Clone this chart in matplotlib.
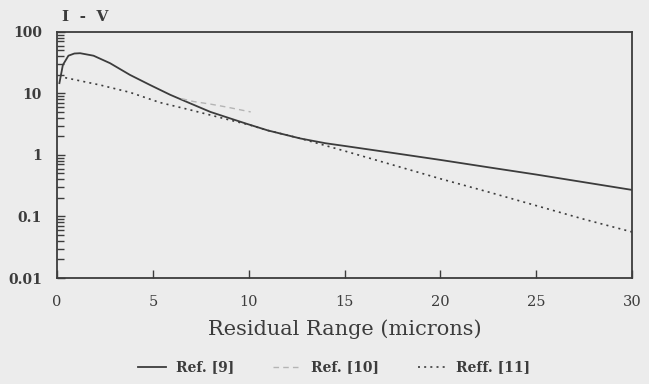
import matplotlib.pyplot as plt
from matplotlib.ticker import FixedLocator, LogLocator, NullFormatter

# Data
ref9_x = [0.12, 0.3, 0.59, 0.9, 1.2, 1.9, 2.76, 3.8, 4.85, 5.9, 6.94, 8.0, 9.0,
          9.9, 11.0, 12.7, 14.0, 15.0, 17.5, 20.0, 22.5, 25.0, 27.5, 30.0]
ref9_y = [14.7, 29, 41, 44.5, 45, 41, 31, 20, 13.7, 9.5, 6.9, 5.0, 3.95,
          3.2, 2.5, 1.85, 1.55, 1.4, 1.08, 0.83, 0.63, 0.48, 0.36, 0.27]

ref10_x = [6.5, 7.1, 8.0, 8.85, 10.1]
ref10_y = [8.2, 7.4, 6.7, 6.0, 5.0]

ref11_x = [0.42, 2.24, 3.8, 5.37, 6.94, 9.0, 10.0, 11.0, 12.7, 15.0,
           17.5, 20.0, 22.5, 25.0, 27.5, 30.0]
ref11_y = [18, 13.7, 10.4, 7.1, 5.4, 3.7, 3.1, 2.5, 1.85, 1.16,
           0.69, 0.41, 0.25, 0.15, 0.09, 0.056]

x_ticks = [0, 5, 10, 15, 20, 25, 30]
y_ticks = [0.01, 0.1, 1, 10, 100]
y_labels = ["0.01", "0.1", "1", "10", "100"]

ink = "#3c3c3c"
bg = "#ececec"

plt.rcParams['font.family'] = ['DejaVu Serif']

fig = plt.figure(figsize=(6.49, 3.84), dpi=100, facecolor=bg)
ax = fig.add_axes([0.088, 0.276, 0.886, 0.641])
ax.set_facecolor(bg)

ax.plot(ref9_x, ref9_y, color=ink, lw=1.3, label="Ref. [9]")
ax.plot(ref10_x, ref10_y, color="#b4b4b4", lw=1.0, linestyle=(0, (4, 3)), label="Ref. [10]")
ax.plot(ref11_x, ref11_y, color=ink, lw=1.2, linestyle=(0, (1.2, 2.5)), label="Reff. [11]")

ax.set_yscale("log")
ax.set_xlim(0, 30)
ax.set_ylim(0.01, 100)

ax.xaxis.set_major_locator(FixedLocator(x_ticks))
ax.set_xticklabels([str(t) for t in x_ticks], fontsize=10.5, color=ink)
ax.yaxis.set_major_locator(FixedLocator(y_ticks))
ax.set_yticklabels(y_labels, fontsize=10, fontweight="bold", color=ink)
ax.yaxis.set_minor_locator(LogLocator(base=10, subs=range(2, 10)))
ax.yaxis.set_minor_formatter(NullFormatter())

ax.tick_params(axis="x", direction="in", length=6, width=1, color=ink, pad=12)
ax.tick_params(axis="y", which="major", direction="in", length=6, width=1, color=ink, pad=11)
ax.tick_params(axis="y", which="minor", direction="in", length=5, width=1, color=ink)
ax.tick_params(top=False, right=False)

for side in ["left", "right", "top", "bottom"]:
    ax.spines[side].set_color(ink)
    ax.spines[side].set_linewidth(1.3)

ax.set_xlabel("Residual Range (microns)", fontsize=15, color=ink, labelpad=8)
ax.text(0.008, 1.03, "I  -  V", transform=ax.transAxes, fontsize=11,
        fontweight="bold", color=ink, ha="left", va="bottom")

fig.legend(loc="lower center", bbox_to_anchor=(0.515, -0.008), ncol=3, frameon=False,
           prop={"size": 10, "weight": "bold"}, handlelength=2.0, handletextpad=0.75,
           columnspacing=2.8, labelcolor=ink)

fig.savefig("out.png", dpi=100, facecolor=bg)
